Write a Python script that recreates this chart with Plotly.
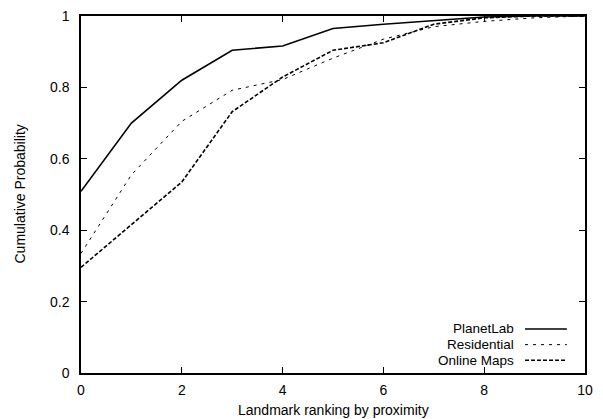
import plotly.graph_objects as go

# Landmark rank (0 = closest) and cumulative probability per dataset
ranks = [0, 1, 2, 3, 4, 5, 6, 7, 8, 9, 10]
planetlab = [0.509, 0.700, 0.820, 0.904, 0.916, 0.965, 0.977, 0.988, 0.997, 1.0, 1.0]
residential = [0.335, 0.555, 0.705, 0.792, 0.822, 0.882, 0.935, 0.970, 0.985, 0.995, 1.0]
online_maps = [0.296, 0.415, 0.535, 0.732, 0.829, 0.904, 0.925, 0.977, 0.995, 1.0, 1.0]

series_names = ["PlanetLab", "Residential", "Online Maps"]
x_ticks = [0, 2, 4, 6, 8, 10]
y_ticks = [0, 0.2, 0.4, 0.6, 0.8, 1]
y_tick_text = ["0", "0.2", "0.4", "0.6", "0.8", "1"]

FONT = "Liberation Sans, Arial, Helvetica, sans-serif"
FS = 14
KEY_FS = 13.5

styles = [
    dict(color="black", width=1.6, dash="solid"),
    dict(color="black", width=1.0, dash="3px,5px"),
    dict(color="black", width=1.6, dash="4px,2px"),
]

fig = go.Figure()
for name, ys, st in zip(series_names, [planetlab, residential, online_maps], styles):
    fig.add_trace(go.Scatter(x=ranks, y=ys, mode="lines", name=name, line=st,
                             showlegend=False))

axis_common = dict(
    showline=True, linecolor="black", linewidth=1.5, mirror="ticks",
    ticks="inside", ticklen=6, tickwidth=1, tickcolor="black",
    showgrid=False, zeroline=False,
    tickfont=dict(family=FONT, size=FS, color="black"),
)

fig.update_xaxes(range=[0, 10], tickvals=x_ticks, ticklabelstandoff=3, **axis_common)
fig.update_yaxes(range=[0, 1], tickvals=y_ticks, ticktext=y_tick_text,
                 ticklabelstandoff=7, **axis_common)

# Key in the lower right corner: right-aligned label followed by a line sample
legend_rows = [0.1233, 0.0795, 0.0356]
annotations = []
shapes = []
for name, yrow, st in zip(series_names, legend_rows, styles):
    annotations.append(dict(x=0.861, y=yrow, xref="paper", yref="paper",
                            text=name, showarrow=False, xanchor="right",
                            yanchor="middle", borderpad=0,
                            font=dict(family=FONT, size=KEY_FS, color="black")))
    shapes.append(dict(type="line", xref="paper", yref="paper",
                       x0=0.881, x1=0.964, y0=yrow, y1=yrow, line=st))

annotations.append(dict(x=0.5, y=0, xref="paper", yref="paper",
                        text="Landmark ranking by proximity", showarrow=False,
                        xanchor="center", yanchor="middle", yshift=-37,
                        font=dict(family=FONT, size=FS, color="black")))
annotations.append(dict(x=0, y=0.5, xref="paper", yref="paper",
                        text="Cumulative Probability", showarrow=False,
                        textangle=-90, xanchor="center", yanchor="middle",
                        xshift=-62,
                        font=dict(family=FONT, size=FS, color="black")))

fig.update_layout(
    width=603, height=419,
    margin=dict(l=81, r=18, t=8, b=46),
    paper_bgcolor="white", plot_bgcolor="white",
    annotations=annotations, shapes=shapes,
    showlegend=False,
)

fig.write_html("out.html")
